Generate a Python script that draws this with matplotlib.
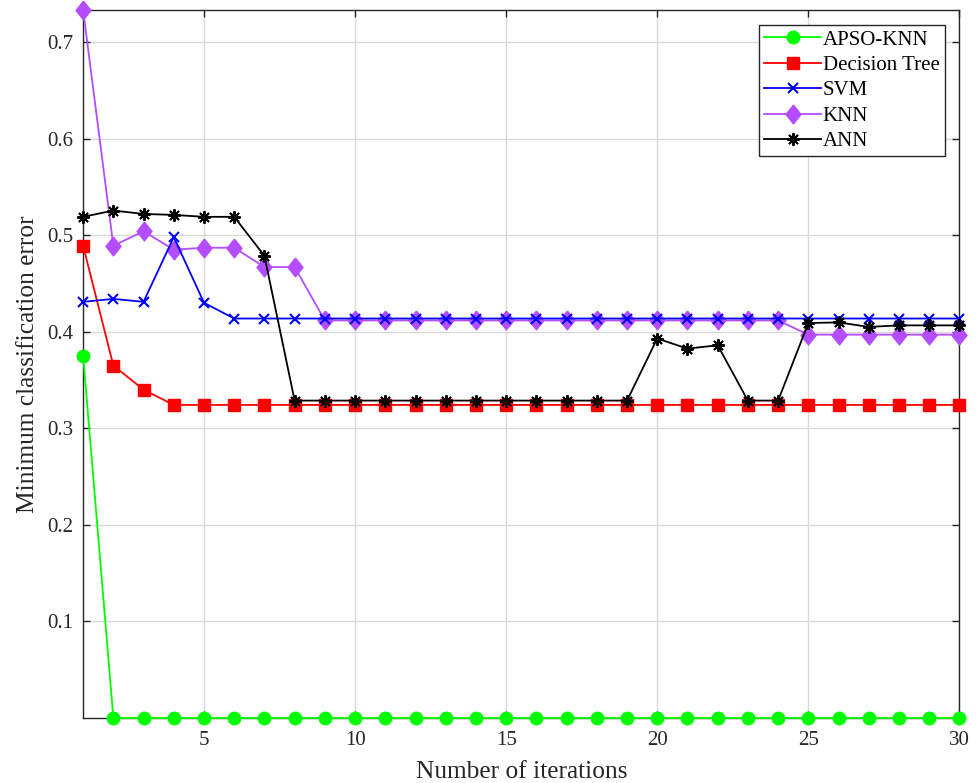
import numpy as np
import matplotlib.pyplot as plt

iterations = list(range(1, 31))

apso_knn = [0.375] + [0.0] * 29
decision_tree = [0.489, 0.365, 0.340] + [0.3242] * 27
svm = [0.431, 0.434, 0.431, 0.498, 0.430] + [0.4137] * 25
knn = ([0.733, 0.489, 0.504, 0.485, 0.487, 0.487, 0.467, 0.467]
       + [0.4117] * 16 + [0.397] * 6)
ann = ([0.519, 0.5255, 0.522, 0.521, 0.519, 0.519, 0.4786]
       + [0.3287] * 12
       + [0.393, 0.3825, 0.386, 0.3287, 0.3287,
          0.409, 0.4097, 0.405, 0.4066, 0.4066, 0.4066])

xticks = [5, 10, 15, 20, 25, 30]
yticks = [0.1, 0.2, 0.3, 0.4, 0.5, 0.6, 0.7]

plt.rcParams['font.family'] = ['Liberation Serif', 'DejaVu Serif']
plt.rcParams['font.size'] = 15

fig, ax = plt.subplots(figsize=(9.78, 7.83), dpi=100)
fig.subplots_adjust(left=0.085, right=0.981, top=0.987, bottom=0.083)

# slightly tall diamond, like the MATLAB one
diamond = [(0, 1), (0.8, 0), (0, -1), (-0.8, 0), (0, 1)]

lw = 1.3
ax.plot(iterations, apso_knn, color='#00ff00', lw=lw, marker='o', ms=9,
        label='APSO-KNN', clip_on=False, zorder=3)
ax.plot(iterations, decision_tree, color='#ff0000', lw=lw, marker='s', ms=8.4,
        label='Decision Tree', clip_on=False, zorder=3)
ax.plot(iterations, svm, color='#0000ff', lw=lw, marker='x', ms=7, mew=1.5,
        label='SVM', clip_on=False, zorder=4)
ax.plot(iterations, knn, color='#b44cff', lw=lw, marker=diamond, ms=13.5,
        label='KNN', clip_on=False, zorder=3)
ax.plot(iterations, ann, color='black', lw=lw, marker=(8, 2, 0), ms=9, mew=1.4,
        label='ANN', clip_on=False, zorder=5)

ax.set_xlim(1, 30)
ax.set_ylim(0, 0.733)
ax.set_xticks(xticks)
ax.set_yticks(yticks)
ax.set_yticklabels([f'{v:.1f}' for v in yticks])
ax.grid(True, color='#d9d9d9', lw=1.0)
ax.set_axisbelow(True)
ax.tick_params(direction='in', top=True, right=True, length=5,
               colors='#262626', labelcolor='#262626', width=1.0)
ax.tick_params(axis='x', pad=9)
ax.tick_params(axis='y', pad=7)
for sp in ax.spines.values():
    sp.set_color('#262626')
    sp.set_linewidth(1.0)

ax.set_xlabel('Number of iterations', color='#262626', fontsize=18.3, labelpad=8)
ax.set_ylabel('Minimum classification error', color='#262626', fontsize=18.3, labelpad=6)

leg = ax.legend(loc='upper right', fontsize=15, fancybox=False, framealpha=1,
                edgecolor='#262626', borderpad=0.25, labelspacing=0.28,
                handlelength=2.7, handletextpad=0.1, borderaxespad=0.7)
leg.get_frame().set_linewidth(1.0)

fig.savefig('out.png', dpi=100)
